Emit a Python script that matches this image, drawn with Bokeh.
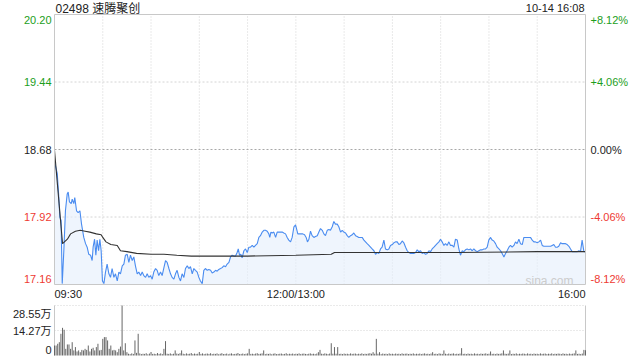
from bokeh.plotting import figure
from bokeh.models import Range1d
from bokeh.layouts import column
from bokeh.embed import file_html
from bokeh.resources import INLINE
from bokeh.core.properties import value

# ---------------- data ----------------
title_text = "02498 速腾聚创"
date_text = "10-14 16:08"

price_ticks = [20.20, 19.44, 18.68, 17.92, 17.16]
price_labels = ["20.20", "19.44", "18.68", "17.92", "17.16"]
pct_labels = ["+8.12%", "+4.06%", "0.00%", "-4.06%", "-8.12%"]
prev_close = 18.68

time_labels = ["09:30", "12:00/13:00", "16:00"]
time_label_minutes = [0, 150, 330]
grid_minutes = [30, 60, 90, 120, 150, 180, 210, 240, 270, 300]

vol_ticks = [28.55, 14.27, 0]
vol_labels = ["28.55万", "14.27万", "0"]

# minutes after 09:30 (lunch break removed) and last price
price_min = [
    0.0, 1.7, 2.7, 3.3, 4.1, 4.8, 5.8, 6.8, 7.9, 8.5, 9.3, 10.4, 11.0, 12.0, 12.6, 13.7, 14.7, 15.8, 16.8, 18.2,
    19.3, 20.3, 21.3, 22.4, 23.4, 24.0, 24.9, 25.7, 26.5, 27.4, 28.2, 29.0, 29.8, 30.7, 31.7, 32.7, 33.8, 34.8, 35.8, 36.9,
    37.9, 39.0, 40.0, 41.0, 42.1, 43.1, 44.1, 45.2, 46.2, 47.2, 48.3, 49.3, 50.3, 51.4, 52.4, 53.5, 54.5, 55.5, 56.6, 57.6,
    58.6, 59.7, 60.7, 61.7, 62.8, 63.8, 64.8, 65.9, 66.9, 68.0, 69.0, 70.0, 71.1, 72.1, 73.1, 74.2, 75.2, 76.2, 77.3, 78.3,
    79.3, 80.4,
    81.4, 82.5, 83.5, 84.5, 85.6, 86.6, 87.6, 88.7, 89.7, 90.7, 91.8, 92.8, 93.9, 94.9, 95.9, 97.0, 98.0, 99.0, 100.1, 101.1,
    102.1, 103.2, 104.2, 105.2, 106.3, 107.3, 108.4, 109.4, 110.4, 111.5, 112.5, 113.5, 114.2, 115.0, 115.8, 116.6, 117.7, 118.7, 119.8, 120.8,
    121.8, 122.9, 123.9, 124.9, 126.0, 127.0, 128.0, 129.1, 130.1, 131.1, 132.2, 133.2, 133.8, 134.5, 135.3, 136.3, 137.4, 138.4, 139.4, 140.5,
    141.5, 142.5, 143.6, 144.6, 145.6, 146.7, 147.7, 148.8, 149.8, 150.4, 151.2, 152.3, 153.3, 154.3, 155.4, 156.4, 157.2, 158.1, 159.1, 160.1,
    161.2, 162.2, 163.3, 164.3,
    165.3, 166.4, 167.4, 168.4, 169.5, 170.5, 171.5, 172.6, 173.6, 174.6, 175.7, 176.7, 177.8, 178.8, 179.8, 180.9, 181.9, 182.9, 184.0, 185.0,
    186.0, 187.1, 188.1, 189.1, 190.2, 191.2, 192.3, 193.3, 194.3, 195.4, 196.4, 197.4, 198.5, 199.5, 200.5, 201.6, 202.6, 203.6, 204.7, 205.7,
    206.8, 207.8, 208.8, 209.9, 210.9, 211.9, 213.0, 214.0, 215.0, 216.1, 217.1, 218.2, 219.2, 220.2, 221.3, 222.3, 223.3, 224.4, 225.4, 226.4,
    227.5, 228.5, 229.5, 230.6, 231.6, 232.7, 233.7, 234.7, 235.8, 236.8, 237.8, 238.9, 239.9, 240.9, 242.0, 243.0, 244.0, 245.1, 246.1, 247.2,
    248.2,
    249.2, 250.3, 251.3, 252.3, 253.4, 254.4, 255.4, 256.5, 257.5, 258.5, 259.6, 260.6, 261.7, 262.7, 263.7, 264.8, 265.8, 266.8, 267.9, 268.9,
    269.9, 271.0, 272.0, 273.0, 274.1, 275.1, 276.2, 277.2, 278.2, 279.3, 280.3, 281.3, 282.4, 283.4, 284.4, 285.5, 286.5, 287.5, 288.6, 289.6,
    290.7, 291.7, 292.7, 293.8, 294.8, 295.8, 296.9, 297.9, 298.9, 300.0, 301.0, 302.1, 303.1, 304.1, 305.2, 306.2, 307.2, 308.3, 309.3, 310.3,
    311.4, 312.4, 313.4, 314.5, 315.5, 316.5, 317.6, 318.6, 319.7, 320.7, 321.7, 322.8, 323.8, 324.8, 325.9, 326.9, 327.9, 329.0, 330.0,
]
price_val = [
    18.54, 18.41, 18.14, 17.92, 17.88, 17.17, 17.54, 17.99, 18.18, 18.20, 18.09, 18.07, 18.12, 18.07, 18.14, 17.99, 17.97, 17.99, 17.84, 17.69,
    17.62, 17.58, 17.50, 17.49, 17.43, 17.58, 17.67, 17.49, 17.66, 17.54, 17.67, 17.54, 17.20, 17.17, 17.30, 17.39, 17.28, 17.24, 17.34, 17.24,
    17.28, 17.20, 17.30, 17.28, 17.37, 17.39, 17.49, 17.50, 17.41, 17.49, 17.43, 17.47, 17.37, 17.28, 17.30, 17.26, 17.30, 17.26, 17.24, 17.28,
    17.24, 17.26, 17.22, 17.30, 17.34, 17.32, 17.26, 17.30, 17.26, 17.35, 17.43, 17.41, 17.34, 17.28, 17.24, 17.22, 17.28, 17.32, 17.24, 17.20,
    17.28, 17.24,
    17.34, 17.37, 17.34, 17.36, 17.28, 17.34, 17.32, 17.30, 17.24, 17.20, 17.17, 17.32, 17.34, 17.32, 17.33, 17.32, 17.29, 17.30, 17.32, 17.31,
    17.33, 17.34, 17.35, 17.37, 17.36, 17.39, 17.41, 17.47, 17.49, 17.48, 17.48, 17.52, 17.56, 17.49, 17.50, 17.46, 17.54, 17.56, 17.52, 17.58,
    17.58, 17.60, 17.58, 17.60, 17.62, 17.69, 17.71, 17.75, 17.77, 17.77, 17.76, 17.73, 17.69, 17.75, 17.74, 17.75, 17.69, 17.75, 17.75, 17.75,
    17.75, 17.74, 17.73, 17.69, 17.66, 17.64, 17.69, 17.81, 17.83, 17.79, 17.73, 17.73, 17.73, 17.73, 17.72, 17.69, 17.64, 17.67, 17.76, 17.71,
    17.69, 17.70, 17.71, 17.75,
    17.79, 17.77, 17.73, 17.71, 17.77, 17.78, 17.77, 17.81, 17.87, 17.84, 17.84, 17.81, 17.75, 17.77, 17.75, 17.74, 17.71, 17.69, 17.71, 17.72,
    17.74, 17.71, 17.70, 17.69, 17.69, 17.69, 17.66, 17.64, 17.62, 17.60, 17.58, 17.56, 17.54, 17.50, 17.52, 17.51, 17.56, 17.58, 17.66, 17.56,
    17.55, 17.56, 17.60, 17.61, 17.63, 17.64, 17.64, 17.61, 17.62, 17.65, 17.63, 17.58, 17.54, 17.52, 17.51, 17.51, 17.51, 17.52, 17.55, 17.53,
    17.54, 17.51, 17.52, 17.50, 17.51, 17.54, 17.53, 17.56, 17.58, 17.60, 17.62, 17.64, 17.67, 17.64, 17.60, 17.62, 17.60, 17.64, 17.60, 17.60,
    17.58,
    17.67, 17.66, 17.56, 17.49, 17.54, 17.53, 17.55, 17.56, 17.55, 17.56, 17.54, 17.56, 17.54, 17.53, 17.54, 17.55, 17.55, 17.56, 17.56, 17.58,
    17.66, 17.69, 17.66, 17.65, 17.62, 17.58, 17.56, 17.54, 17.51, 17.47, 17.51, 17.54, 17.58, 17.60, 17.58, 17.60, 17.64, 17.62, 17.67, 17.62,
    17.61, 17.69, 17.69, 17.69, 17.69, 17.69, 17.66, 17.64, 17.64, 17.63, 17.64, 17.66, 17.60, 17.59, 17.59, 17.59, 17.59, 17.59, 17.60, 17.61,
    17.58, 17.58, 17.59, 17.63, 17.62, 17.62, 17.62, 17.61, 17.59, 17.56, 17.53, 17.53, 17.53, 17.53, 17.54, 17.53, 17.66, 17.53, 17.53,
]

# average price line
avg_min = [0, 5, 8, 10, 13, 16, 19, 22, 26, 29, 30, 32, 35, 39, 41, 45, 51, 60, 68, 76, 85, 120, 150, 172, 174, 200, 250, 300, 330]
avg_val = [18.67, 17.62, 17.67, 17.73, 17.76, 17.77, 17.76, 17.75, 17.73, 17.72, 17.69, 17.64, 17.61, 17.60, 17.54, 17.53,
           17.51, 17.50, 17.50, 17.49, 17.48, 17.48, 17.49, 17.50, 17.52, 17.52, 17.52, 17.53, 17.53]

# volume per minute (万 shares)
volume = [
    5.7, 5.7, 6.7, 7.6, 12.4, 15.8, 14.7, 3.8, 6.3, 6.3,
    3.8, 7.6, 2.9, 4.8, 2.3, 2.9, 1.9, 3.2, 2.9, 3.8,
    3.2, 5.7, 2.3, 3.8, 4.4, 2.9, 4.8, 6.7, 2.9, 3.2,
    9.5, 10.5, 10.5, 8.6, 3.8, 5.7, 2.9, 3.2, 2.9, 1.9,
    3.8, 5.1, 28.55, 2.9, 7.0, 1.9, 1.0, 0.8, 1.2, 0.9,
    8.6, 1.5, 12.4, 1.2, 0.8, 1.0, 0.9, 1.3, 0.7, 1.1,
    2.0, 0.9, 1.0, 0.8, 1.4, 0.9, 1.2, 0.8, 3.8, 8.2,
    1.0, 0.9, 1.2, 0.8, 1.0, 2.9, 1.1, 0.9, 1.3, 2.9,
    1.0, 0.8, 1.2, 0.9, 1.0, 1.4, 0.8, 1.1, 0.9, 1.0,
    2.0, 0.9, 1.2, 0.8, 1.0, 1.1, 0.9, 1.3, 0.8, 1.0,
    0.9, 1.2, 0.7, 1.0, 1.3, 0.8, 0.9, 1.1, 0.7, 1.0,
    1.2, 0.8, 0.9, 1.0, 1.4, 0.8, 0.9, 1.1, 0.8, 1.0,
    1.2, 3.8, 0.9, 1.0, 0.8, 1.1, 1.3, 0.9, 1.0, 1.2,
    2.9, 0.8, 1.0, 0.9, 1.1, 0.7, 1.0, 1.2, 0.8, 0.9,
    1.0, 1.1, 0.8, 0.9, 1.3, 0.8, 1.0, 0.9, 1.1, 0.8,
    1.0, 0.9, 1.2, 0.8, 1.0, 1.1, 0.9, 0.8, 1.0, 1.2,
    0.9, 1.0, 0.8, 1.1, 1.9, 3.2, 1.0, 0.9, 1.2, 1.0,
    0.8, 1.1, 7.0, 1.0, 4.8, 1.0, 4.8, 0.9, 1.0, 0.8,
    1.1, 0.9, 1.0, 0.8, 1.2, 0.9, 1.0, 1.1, 0.8, 1.0,
    0.9, 1.2, 0.8, 1.0, 0.9, 1.1, 1.3, 1.0, 1.9, 1.0,
    9.5, 1.0, 1.9, 0.8, 1.1, 0.9, 1.0, 0.8, 1.2, 0.9,
    1.0, 0.8, 1.1, 0.9, 1.0, 0.8, 1.2, 0.9, 1.0, 1.1,
    0.8, 1.0, 0.9, 1.2, 0.8, 1.0, 0.9, 1.1, 0.8, 1.0,
    1.2, 0.9, 1.0, 0.8, 1.1, 1.9, 0.9, 1.0, 0.8, 1.2,
    1.0, 0.9, 2.9, 1.0, 0.8, 1.1, 0.9, 1.0, 1.2, 0.8,
    1.0, 0.9, 1.1, 4.2, 0.9, 1.0, 0.8, 1.1, 0.9, 1.0,
    0.8, 1.2, 0.9, 1.0, 0.8, 1.1, 0.9, 1.0, 1.2, 0.9,
    1.0, 2.3, 0.9, 1.0, 0.8, 1.1, 0.9, 1.0, 1.2, 2.9,
    1.0, 0.9, 1.1, 2.9, 0.8, 1.0, 0.9, 1.2, 0.8, 1.0,
    0.9, 1.1, 1.0, 0.8, 1.2, 0.9, 1.0, 0.8, 1.1, 0.9,
    1.0, 0.8, 1.2, 0.9, 1.0, 1.1, 0.8, 1.0, 0.9, 1.2,
    0.8, 1.0, 0.9, 1.1, 1.0, 0.8, 1.2, 0.9, 1.0, 0.8,
    1.1, 0.9, 1.0, 1.2, 2.9, 0.9, 1.0, 0.8, 1.1, 3.2,
    3.0,
]
vol_min = list(range(len(volume)))

# ---------------- styling / geometry ----------------
FONT = "Liberation Sans, Noto Sans CJK SC"
GREEN = "#1c9e1c"
RED = "#ee3a32"
DARK = "#222222"
GRID = "#d4d4d4"
BORDER = "#c8c8c8"
BLUE = "#4a8cf0"

W = 640
FRAME_L, FRAME_R = 54, 585          # pixel edges of the chart boxes
MAIN_T, MAIN_B, MAIN_H = 14, 284, 298
VOL_T, VOL_B, VOL_H = 7, 57, 62     # inside the volume figure (starts at y=298)

X0, X1 = 0, 330
Y0, Y1 = price_ticks[-1], price_ticks[0]
ppm = (FRAME_R - FRAME_L) / (X1 - X0)            # px per minute
ppp = (Y1 - Y0) / (MAIN_B - MAIN_T)              # price per px

xr_start = X0 - FRAME_L / ppm
xr_end = X1 + (W - FRAME_R) / ppm

p = figure(width=W, height=MAIN_H,
           x_range=Range1d(xr_start, xr_end),
           y_range=Range1d(Y0 - (MAIN_H - MAIN_B) * ppp, Y1 + MAIN_T * ppp),
           x_axis_location=None, y_axis_location=None,
           min_border=0, output_backend="svg", toolbar_location=None)
p.outline_line_color = None
p.xgrid.visible = False
p.ygrid.visible = False
p.background_fill_color = "white"
p.border_fill_color = "white"

# grid lines
p.segment(x0=grid_minutes, y0=[Y0] * len(grid_minutes), x1=grid_minutes, y1=[Y1] * len(grid_minutes),
          line_color=GRID, line_dash="1 2", line_width=1)
inner = price_ticks[1:-1]
p.segment(x0=[X0] * len(inner), y0=inner, x1=[X1] * len(inner), y1=inner,
          line_color=[("#a8a8a8" if t == prev_close else GRID) for t in inner],
          line_dash="2 2", line_width=1)

# area + lines
p.varea(x=price_min, y1=[Y0] * len(price_min), y2=price_val, fill_color="#e4eefc", fill_alpha=0.6)
p.line(price_min, price_val, line_color=BLUE, line_width=1.1)
p.line(avg_min, avg_val, line_color="#333333", line_width=1.1)

# frame box
p.segment(x0=[X0, X0, X0, X1], y0=[Y0, Y1, Y0, Y0], x1=[X1, X1, X0, X1], y1=[Y0, Y1, Y1, Y1],
          line_color=BORDER, line_width=1)

# tick label positions
def colour(t):
    if t > prev_close:
        return GREEN
    if t < prev_close:
        return RED
    return DARK

ty = list(price_ticks)
ty[0] = price_ticks[0] - 5 * ppp
ty[-1] = price_ticks[-1] + 6 * ppp
cols = [colour(t) for t in price_ticks]

p.text(x=[X0 - 3 / ppm] * len(ty), y=ty, text=price_labels, text_color=cols,
       text_font=value(FONT), text_font_size="11px", text_align="right", text_baseline="middle")
p.text(x=[X1 + 5 / ppm] * len(ty), y=ty, text=pct_labels, text_color=cols,
       text_font=value(FONT), text_font_size="11px", text_align="left", text_baseline="middle")

# title & date
p.text(x=[X0 + 1 / ppm], y=[Y1 + 6 * ppp], text=[title_text], text_color=DARK,
       text_font=value(FONT), text_font_size="12px", text_align="left", text_baseline="middle")
p.text(x=[X1 - 1 / ppm], y=[Y1 + 7 * ppp], text=[date_text], text_color=DARK,
       text_font=value(FONT), text_font_size="11px", text_align="right", text_baseline="middle")

# time labels
for m, lab, al in zip(time_label_minutes, time_labels, ["left", "center", "right"]):
    p.text(x=[m], y=[Y0 - 9 * ppp], text=[lab], text_color=DARK,
           text_font=value(FONT), text_font_size="11px", text_align=al, text_baseline="middle")

# watermark
p.text(x=[X1 - 12 / ppm], y=[Y0 + 4 * ppp], text=["sina.com"], text_color="#cccccc",
       text_font=value(FONT), text_font_size="12px", text_align="right", text_baseline="middle")

# ---------------- volume panel ----------------
V1 = vol_ticks[0]
vpp = V1 / (VOL_B - VOL_T)
p2 = figure(width=W, height=VOL_H,
            x_range=Range1d(xr_start, xr_end),
            y_range=Range1d(-(VOL_H - VOL_B) * vpp, V1 + VOL_T * vpp),
            x_axis_location=None, y_axis_location=None,
            min_border=0, output_backend="svg", toolbar_location=None)
p2.outline_line_color = None
p2.xgrid.visible = False
p2.ygrid.visible = False
p2.background_fill_color = "white"
p2.border_fill_color = "white"

vg = vol_ticks[:-1]
p2.segment(x0=[X0] * len(vg), y0=vg, x1=[X1] * len(vg), y1=vg, line_color=GRID, line_dash="1 2", line_width=1)
p2.segment(x0=[X0, X1], y0=[0, 0], x1=[X0, X1], y1=[V1, V1], line_color=BORDER, line_width=1)

p2.segment(x0=vol_min, y0=[0] * len(vol_min), x1=vol_min, y1=volume, line_color="#666666", line_width=1)

vty = list(vol_ticks)
vty[0] = vol_ticks[0] - 8 * vpp
vty[-1] = vol_ticks[-1] + 6 * vpp
p2.text(x=[X0 - 3 / ppm] * len(vty), y=vty, text=vol_labels, text_color=DARK,
        text_font=value(FONT), text_font_size="11px", text_align="right", text_baseline="middle")

layout = column(p, p2)
open("out.html", "w").write(file_html(layout, INLINE))
